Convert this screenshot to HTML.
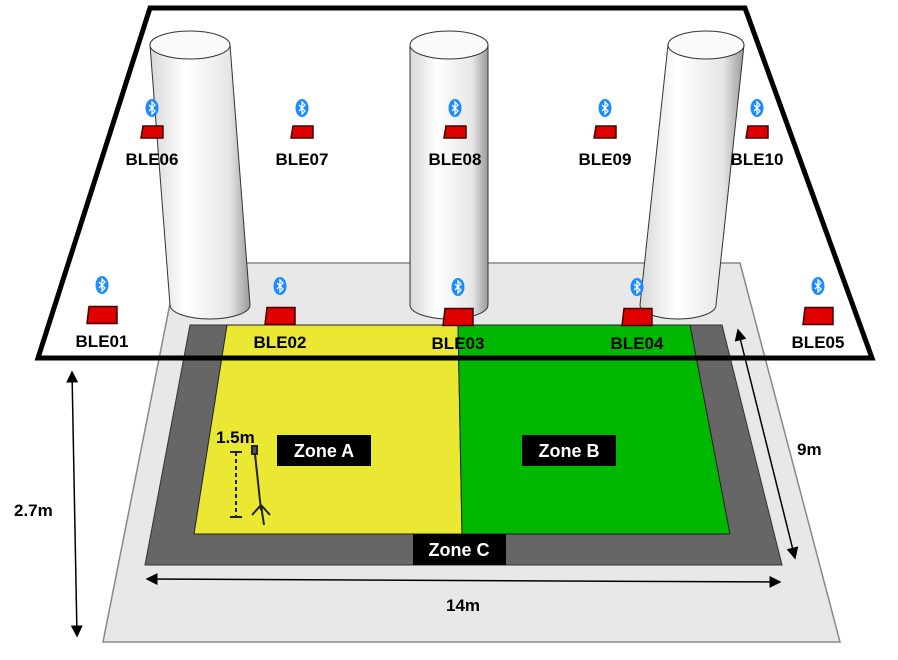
<!DOCTYPE html>
<html><head><meta charset="utf-8"><style>
body{margin:0;background:#fff}
svg{display:block}
text{font-family:"Liberation Sans","DejaVu Sans",sans-serif;font-weight:bold}
</style></head><body>
<svg width="898" height="660" viewBox="0 0 898 660" xmlns="http://www.w3.org/2000/svg">
<defs>
<linearGradient id="cyl" x1="0" x2="1" y1="0" y2="0">
<stop offset="0" stop-color="#d8d8d8"/><stop offset="0.35" stop-color="#ffffff"/><stop offset="0.8" stop-color="#e6e6e6"/><stop offset="1" stop-color="#9a9a9a"/>
</linearGradient>
<marker id="ah" markerWidth="8" markerHeight="8" refX="7" refY="4" orient="auto-start-reverse"><path d="M0,0 L8,4 L0,8 z" fill="#000"/></marker>
</defs>
<polygon points="178,263 740,263 840,642 103,642" fill="#e8e8e8" stroke="#888" stroke-width="1.5"/>
<polygon points="190,325 722,325 782,565 145,565" fill="#666" stroke="#333"/>
<polygon points="227,325 458,325 462,534 194,534" fill="#eae832" stroke="#222"/>
<polygon points="458,325 690,325 730,534 462,534" fill="#00b800" stroke="#222"/>
<g>
<path d="M150,45 L170,305 A40,14 0 0 0 250,305 L230,45 Z" fill="url(#cyl)" stroke="#333"/>
<ellipse cx="190" cy="45" rx="40" ry="14" fill="#fafafa" stroke="#333"/></g>
<g>
<path d="M410,45 L410,305 A39,14 0 0 0 488,305 L488,45 Z" fill="url(#cyl)" stroke="#333"/>
<ellipse cx="449" cy="45" rx="39" ry="14" fill="#fafafa" stroke="#333"/></g>
<g>
<path d="M668,45 L640,305 A38,14 0 0 0 716,305 L744,45 Z" fill="url(#cyl)" stroke="#333"/>
<ellipse cx="706" cy="45" rx="38" ry="14" fill="#fafafa" stroke="#333"/></g>
<polygon points="150,8 745,8 872,358 38,358" fill="none" stroke="#000" stroke-width="5"/>
<g id="beacons"></g>
<g><rect x="277" y="435" width="94" height="31" fill="#000"/><text x="324" y="457" fill="#fff" font-size="18" text-anchor="middle">Zone A</text></g>
<g><rect x="522" y="435" width="94" height="31" fill="#000"/><text x="569" y="457" fill="#fff" font-size="18" text-anchor="middle">Zone B</text></g>
<g><rect x="413" y="534" width="93" height="31" fill="#000"/><text x="459" y="556" fill="#fff" font-size="18" text-anchor="middle">Zone C</text></g>
<g stroke="#222" stroke-width="2" fill="none">
<line x1="236" y1="452" x2="236" y2="517" stroke-dasharray="4,3"/><line x1="230" y1="452" x2="242" y2="452"/><line x1="230" y1="517" x2="242" y2="517"/>
<rect x="252" y="446" width="5" height="8" fill="#555"/><line x1="255" y1="454" x2="261" y2="510"/><line x1="261" y1="505" x2="252" y2="515"/><line x1="261" y1="505" x2="270" y2="515"/><line x1="261" y1="505" x2="264" y2="525"/>
</g>
<text x="216" y="443" font-size="17">1.5m</text>
<line x1="72" y1="372" x2="77" y2="636" stroke="#000" stroke-width="1.5" marker-start="url(#ah)" marker-end="url(#ah)"/>
<text x="14" y="516" font-size="17">2.7m</text>
<line x1="147" y1="579" x2="780" y2="582" stroke="#000" stroke-width="1.5" marker-start="url(#ah)" marker-end="url(#ah)"/>
<text x="446" y="611" font-size="17">14m</text>
<line x1="738" y1="330" x2="795" y2="558" stroke="#000" stroke-width="1.5" marker-start="url(#ah)" marker-end="url(#ah)"/>
<text x="797" y="455" font-size="17">9m</text>
</svg>
<script>
const names=['BLE06','BLE07','BLE08','BLE09','BLE10','BLE01','BLE02','BLE03','BLE04','BLE05'];
const bx=[152,302,455,605,757,102,280,458,637,818];
const by=[132,132,132,132,132,315,316,317,317,316];
const g=document.getElementById('beacons');
const ns='http://www.w3.org/2000/svg';
for(let i=0;i<names.length;i++){
  const top=i<5;const w=top?22:30,h=top?12:17;const x=bx[i],y=by[i];
  const grp=document.createElementNS(ns,'g');
  
  
  const r=document.createElementNS(ns,'path');
  r.setAttribute('d',`M${x-w/2+2},${y-h/2} L${x+w/2},${y-h/2} L${x+w/2},${y+h/2} L${x-w/2},${y+h/2} Z`);
  r.setAttribute('fill','#e00000');r.setAttribute('stroke','#400');r.setAttribute('stroke-width','1.5');
  grp.appendChild(r);
  const iy=y-(top?24:30);
  const e=document.createElementNS(ns,'ellipse');
  e.setAttribute('cx',x);e.setAttribute('cy',iy);e.setAttribute('rx',6.5);e.setAttribute('ry',9);e.setAttribute('fill','#1a8cff');
  grp.appendChild(e);
  const p=document.createElementNS(ns,'path');
  p.setAttribute('d',`M${x-3},${iy-3} L${x+3},${iy+3} L${x},${iy+6} L${x},${iy-6} L${x+3},${iy-3} L${x-3},${iy+3}`);
  p.setAttribute('fill','none');p.setAttribute('stroke','#fff');p.setAttribute('stroke-width','1.3');
  grp.appendChild(p);
  const t=document.createElementNS(ns,'text');
  t.setAttribute('x',x);t.setAttribute('y',top?y+33:y+32);t.setAttribute('text-anchor','middle');t.setAttribute('font-size','17');
  t.textContent=names[i];
  grp.appendChild(t);
  g.appendChild(grp);
}
</script>
</body></html>
